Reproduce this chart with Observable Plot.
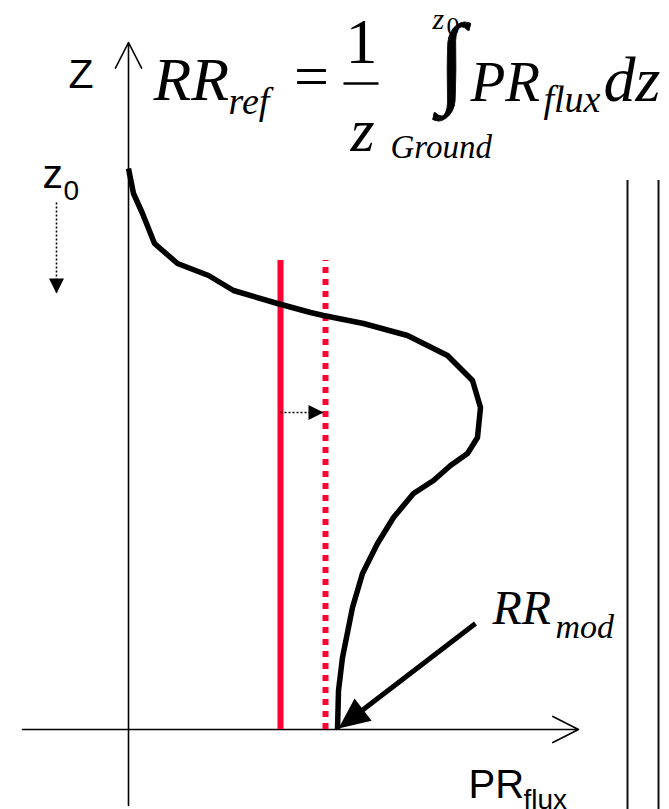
<!DOCTYPE html>
<html>
<head>
<meta charset="utf-8">
<script src="https://cdn.jsdelivr.net/npm/d3@7"></script>
<script src="https://cdn.jsdelivr.net/npm/@observablehq/plot@0.6"></script>
<style>
  html, body { margin: 0; padding: 0; background: #fff; }
  #chart svg { display: block; }
</style>
</head>
<body>
<div id="chart"></div>
<script>
// ---------- data (x = PR_flux units, z = height units) ----------
// vertical profile of precipitation flux, from z0 (top) down to the ground
const profileZ  = [56.1, 53.6, 51.6, 48.6, 46.6, 45.4, 43.9, 42.6, 41.7, 41.4, 40.6, 39.4, 37.4, 34.9,
                   32.2, 29.2, 27.6, 26.4, 24.9, 23.6, 21.2, 18.6, 15.6, 12.2, 7.2, 3.9, 0];
const profilePR = [0, 0.5, 1.4, 2.6, 4.9, 8.0, 10.5, 14.9, 18.2, 19.5, 23.5, 27.9, 31.9, 34.4,
                   35.2, 34.9, 33.9, 32.2, 30.5, 28.5, 26.5, 24.9, 23.4, 22.4, 21.4, 21.0, 20.9];

// reference rain rate (solid red) and shifted value (dashed red)
const rrLines   = [15.2, 19.7];
const rrLineTop = 46.9;

// axes extents
const xAxisRange = [-10.6, 45.0];
const zAxisRange = [-7.6, 68.7];

// frame lines on the right
const frameX = [49.9, 53.0];
const frameZ = [-8.0, 54.9];

// annotation arrows: [x1, z1, x2(tip), z2(tip)]
const shiftArrow = [15.2, 31.7, 19.5, 31.7];
const z0Arrow    = [-7.2, 52.7, -7.2, 43.6];
const modArrow   = [34.7, 10.6, 21.0, 0.1];

// formula fraction bar
const fracBar = [21.5, 25.0, 64.6];

// text labels
const serifItalic = [
  {t: "RR",     x: 2.5,  z: 63.0, s: 62},
  {t: "ref",    x: 10.0, z: 61.6, s: 38},
  {t: "z",      x: 22.2, z: 57.9, s: 62},
  {t: "Ground", x: 26.2, z: 57.2, s: 33},
  {t: "z",      x: 30.4, z: 70.1, s: 30},
  {t: "PR",     x: 34.2, z: 62.9, s: 57},
  {t: "flux",   x: 41.5, z: 61.8, s: 38},
  {t: "dz",     x: 47.5, z: 62.9, s: 64},
  {t: "RR",     x: 36.4, z: 10.6, s: 48},
  {t: "mod",    x: 42.7, z: 9.2,  s: 34}
];
const serifRomanMid = [
  {t: "=", x: 18.3, z: 63.3, s: 62},
  {t: "1", x: 23.3, z: 66.7, s: 64}
];
const integralSign = [
  {t: "∫", x: 32.3, z: 63.6, s: 101}
];
const serifRomanStart = [
  {t: "0", x: 31.8, z: 69.5, s: 26}
];
const sansLabels = [
  {t: "Z",    x: -6.0, z: 64.2, s: 41},
  {t: "z",    x: -8.6, z: 54.2, s: 41},
  {t: "0",    x: -6.5, z: 53.0, s: 28},
  {t: "PR",   x: 34.0, z: -6.8, s: 40},
  {t: "flux", x: 39.5, z: -7.9, s: 28}
];

// ---------- helpers ----------
const W = 669, H = 809;
const RED = "#ff0033";

function headSymbol(len, hw) {
  return {draw(ctx) { ctx.moveTo(0, 0); ctx.lineTo(hw, len); ctx.lineTo(-hw, len); ctx.closePath(); }};
}
function angleOf(a) { return Math.atan2(a[2] - a[0], a[3] - a[1]) * 180 / Math.PI; }
// base point of an arrow head, len in pixel (10 px per unit on both axes)
function baseOf(a, len) {
  const dx = a[2] - a[0], dz = a[3] - a[1], L = Math.hypot(dx, dz);
  return [a[2] - dx / L * len / 10, a[3] - dz / L * len / 10];
}

const profile = profileZ.map((z, i) => ({x: profilePR[i], z}));
const modBase = baseOf(modArrow, 30);

const chart = Plot.plot({
  width: W, height: H, margin: 0,
  x: {domain: [-12.8, 54.1], range: [0, W], axis: null},
  y: {domain: [-8.0, 72.9], range: [H, 0], axis: null},
  style: {background: "white", overflow: "visible"},
  marks: [
    // right frame lines
    Plot.ruleX(frameX, {y1: frameZ[0], y2: frameZ[1], stroke: "#111", strokeWidth: 2}),
    // axes with open arrow heads
    Plot.arrow([{x1: xAxisRange[0], y1: 0, x2: xAxisRange[1], y2: 0}],
      {x1: "x1", y1: "y1", x2: "x2", y2: "y2", stroke: "#000", strokeWidth: 1.6, headAngle: 54, headLength: 27}),
    Plot.arrow([{x1: 0, y1: zAxisRange[0], x2: 0, y2: zAxisRange[1]}],
      {x1: "x1", y1: "y1", x2: "x2", y2: "y2", stroke: "#000", strokeWidth: 1.6, headAngle: 54, headLength: 27}),
    // red rain-rate lines
    Plot.ruleX([rrLines[0]], {y1: 0, y2: rrLineTop, stroke: RED, strokeWidth: 6}),
    Plot.ruleX([rrLines[1]], {y1: 0, y2: rrLineTop, stroke: RED, strokeWidth: 6, strokeDasharray: "6,6"}),
    // profile curve
    Plot.line(profile, {x: "x", y: "z", stroke: "#000", strokeWidth: 5.5, strokeLinejoin: "round", strokeLinecap: "butt"}),
    // shift arrow (dotted)
    Plot.link([shiftArrow], {x1: d => d[0], y1: d => d[1], x2: d => d[2], y2: d => d[3],
      stroke: "#000", strokeWidth: 1.6, strokeDasharray: "2,2"}),
    Plot.dot([shiftArrow], {x: d => d[2], y: d => d[3], symbol: headSymbol(15, 7.5), r: 8,
      fill: "#000", stroke: "none", rotate: angleOf(shiftArrow)}),
    // z0 arrow (dotted)
    Plot.link([z0Arrow], {x1: d => d[0], y1: d => d[1], x2: d => d[2], y2: d => d[3],
      stroke: "#000", strokeWidth: 1.6, strokeDasharray: "2,2"}),
    Plot.dot([z0Arrow], {x: d => d[2], y: d => d[3], symbol: headSymbol(15, 7.5), r: 8,
      fill: "#000", stroke: "none", rotate: angleOf(z0Arrow)}),
    // RR_mod arrow
    Plot.link([modArrow], {x1: d => d[0], y1: d => d[1], x2: () => modBase[0], y2: () => modBase[1],
      stroke: "#000", strokeWidth: 5}),
    Plot.dot([modArrow], {x: d => d[2], y: d => d[3], symbol: headSymbol(31, 14), r: 8,
      fill: "#000", stroke: "none", rotate: angleOf(modArrow)}),
    // fraction bar
    Plot.link([fracBar], {x1: d => d[0], x2: d => d[1], y1: d => d[2], y2: d => d[2], stroke: "#000", strokeWidth: 2.5}),
    // texts
    Plot.text(serifItalic, {x: "x", y: "z", text: "t", fontSize: "s", fontFamily: "Liberation Serif",
      fontStyle: "italic", textAnchor: "start", lineAnchor: "bottom", fill: "#000"}),
    Plot.text(serifRomanMid, {x: "x", y: "z", text: "t", fontSize: "s", fontFamily: "Liberation Serif",
      textAnchor: "middle", lineAnchor: "bottom", fill: "#000"}),
    Plot.text(integralSign, {x: "x", y: "z", text: "t", fontSize: "s", fontFamily: "Liberation Serif",
      textAnchor: "middle", lineAnchor: "bottom", fill: "#000", stroke: "#000", strokeWidth: 0.8}),
    Plot.text(serifRomanStart, {x: "x", y: "z", text: "t", fontSize: "s", fontFamily: "Liberation Serif",
      textAnchor: "start", lineAnchor: "bottom", fill: "#000"}),
    Plot.text(sansLabels, {x: "x", y: "z", text: "t", fontSize: "s", fontFamily: "Liberation Sans",
      textAnchor: "start", lineAnchor: "bottom", fill: "#000"})
  ]
});
document.getElementById("chart").append(chart);
</script>
</body>
</html>
